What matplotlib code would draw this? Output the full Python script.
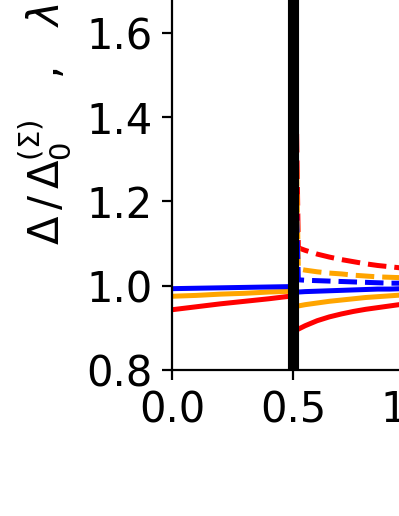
import matplotlib
matplotlib.use("Agg")
import matplotlib.pyplot as plt

# Left region (x < 0.5)
x_left = [0.0, 0.1, 0.2, 0.3, 0.4, 0.5]
red_left = [0.943, 0.950, 0.957, 0.963, 0.969, 0.976]
orange_left = [0.975, 0.977, 0.980, 0.982, 0.985, 0.987]
blue_left = [0.993, 0.994, 0.995, 0.996, 0.997, 0.998]

# Right region, solid (Delta)
x_right = [0.5, 0.522, 0.55, 0.6, 0.65, 0.7, 0.75, 0.8, 0.85, 0.9, 0.95, 1.0]
red_right = [0.890, 0.897, 0.905, 0.917, 0.926, 0.933, 0.939, 0.944, 0.948, 0.952, 0.956, 0.959]
orange_right = [0.950, 0.952, 0.955, 0.959, 0.963, 0.966, 0.969, 0.972, 0.974, 0.976, 0.978, 0.979]
blue_right = [0.984, 0.985, 0.986, 0.987, 0.988, 0.989, 0.990, 0.991, 0.992, 0.992, 0.993, 0.994]

# Right region, dashed (lambda)
x_dash = [0.515, 0.522, 0.55, 0.6, 0.65, 0.7, 0.75, 0.8, 0.85, 0.9, 0.95, 1.0]
red_dash = [1.36, 1.090, 1.084, 1.075, 1.068, 1.062, 1.057, 1.052, 1.048, 1.045, 1.042, 1.039]
orange_dash = [1.28, 1.040, 1.037, 1.033, 1.030, 1.028, 1.025, 1.023, 1.021, 1.020, 1.019, 1.017]
blue_dash = [1.17, 1.014, 1.013, 1.012, 1.011, 1.010, 1.009, 1.008, 1.007, 1.006, 1.006, 1.005]

x_ticks = [0.0, 0.5, 1.0]
y_ticks = [0.8, 1.0, 1.2, 1.4, 1.6, 1.8, 2.0, 2.2]
boundary = 0.5

W, H, DPI = 399, 516, 200
fig = plt.figure(figsize=(W / DPI, H / DPI), dpi=DPI)
left_px, bottom_px = 172, 146
ax_w_px, ax_h_px = 242, 590
ax = fig.add_axes([left_px / W, bottom_px / H, ax_w_px / W, ax_h_px / H])

lw = 1.8
ax.plot(x_left, red_left, color="red", lw=lw, zorder=2)
ax.plot(x_left, orange_left, color="orange", lw=lw, zorder=2)
ax.plot(x_left, blue_left, color="blue", lw=lw, zorder=2)
ax.plot(x_right, red_right, color="red", lw=lw, zorder=2)
ax.plot(x_right, orange_right, color="orange", lw=lw, zorder=2)
ax.plot(x_right, blue_right, color="blue", lw=lw, zorder=2)
ax.plot(x_dash, red_dash, color="red", lw=lw, ls="--", zorder=2)
ax.plot(x_dash, orange_dash, color="orange", lw=lw, ls="--", zorder=2)
ax.plot(x_dash, blue_dash, color="blue", lw=lw, ls="--", zorder=2)

ax.axvline(boundary, color="black", lw=4, zorder=3)

ax.set_xlim(0, 1.0)
ax.set_ylim(0.8, 2.2)
ax.set_xticks(x_ticks)
ax.set_xticklabels(["0.0", "0.5", "1.0"])
ax.set_yticks(y_ticks)
ax.tick_params(labelsize=15)
ax.set_ylabel(r"$\Delta\,/\,\Delta_0^{(\Sigma)}$   ,   $\lambda\,/\,\lambda_0^{(\Sigma)}$", fontsize=15)
ax.yaxis.set_label_coords(-0.41, 0.5)

fig.savefig("out.png", dpi=DPI)
